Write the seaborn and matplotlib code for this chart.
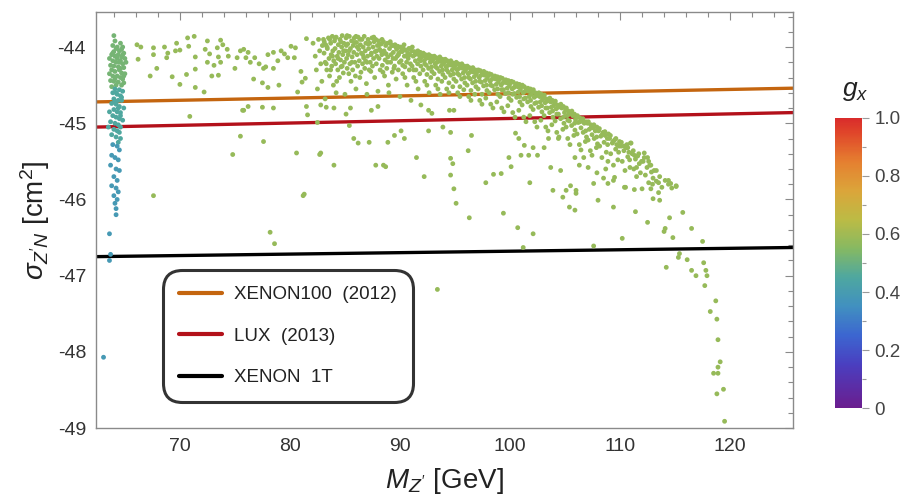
import numpy as np
import pandas as pd
import matplotlib
matplotlib.use("Agg")
import matplotlib.pyplot as plt
import seaborn as sns
from matplotlib.colors import LinearSegmentedColormap, Normalize
from matplotlib.ticker import MultipleLocator, FixedLocator

# ---------------- data ----------------
# exclusion lines (mass in GeV, log10 sigma in cm^2)
xenon100_m = [62.36, 125.7]
xenon100_sigma = [-44.72, -44.54]
lux_m = [62.36, 125.7]
lux_sigma = [-45.05, -44.86]
xenon1t_m = [62.36, 125.7]
xenon1t_sigma = [-46.75, -46.63]

# scan points near the Higgs-resonance column (upper, middle, lower part)
column_top = [(64.0,-43.85),(64.1,-43.92),(63.9,-43.98),(64.6,-43.95),(64.8,-44.0),(64.2,-44.02),(64.0,-44.06),
    (64.5,-44.05),(64.9,-44.08),(63.8,-44.1),(64.1,-44.12),(64.4,-44.1),(64.7,-44.13),(65.0,-44.15),(63.9,-44.18),
    (64.2,-44.2),(64.6,-44.18),(64.8,-44.22),(63.7,-44.24),(64.0,-44.25),(64.4,-44.26),(64.9,-44.27),(63.8,-44.3),
    (64.1,-44.32),(64.5,-44.3),(64.7,-44.34),(65.0,-44.35),(63.9,-44.38),(64.3,-44.38),(64.6,-44.4),(64.8,-44.42),
    (63.7,-44.44),(64.0,-44.45),(64.4,-44.46),(64.9,-44.47),(64.2,-44.5),(64.7,-44.5),(63.8,-44.52),(64.3,-44.0),
    (64.5,-44.2),(64.8,-44.1),(64.3,-44.15),(64.6,-44.28),(63.9,-44.08),(64.1,-44.42),(64.9,-44.38),(64.7,-44.03),
    (63.6,-44.35),(65.1,-44.2),(63.6,-44.15)]
column_mid = [(64.1,-44.55),(64.5,-44.56),(64.8,-44.58),(63.9,-44.6),(64.3,-44.62),(64.6,-44.64),(64.0,-44.68),
    (64.4,-44.7),(64.7,-44.7),(63.8,-44.74),(64.2,-44.75),(64.5,-44.78),(64.9,-44.8),(64.0,-44.82),(64.3,-44.85),
    (64.6,-44.86),(63.9,-44.9),(64.2,-44.92),(64.5,-44.94),(64.8,-44.96),(63.7,-44.98),(64.1,-45.0),(64.4,-45.02),
    (64.6,-45.05),(64.0,-45.08),(64.3,-45.1),(64.5,-45.12),(63.8,-45.15),(64.2,-45.18),(64.6,-45.2),(64.4,-45.25),
    (64.7,-44.66),(64.2,-44.6),(64.6,-44.9),(64.4,-44.8),(64.1,-44.72),(63.6,-44.85),(63.5,-45.05)]
column_low = [(63.9,-45.28),(64.3,-45.3),(64.5,-45.35),(63.8,-45.42),(64.1,-45.45),(64.4,-45.48),(63.7,-45.55),
    (64.2,-45.6),(64.5,-45.62),(64.0,-45.7),(64.3,-45.75),(63.8,-45.82),(64.2,-45.85),(64.4,-45.9),(64.0,-45.95),
    (64.3,-46.0),(64.1,-46.05),(64.2,-46.12),(64.2,-46.2),(63.6,-46.45),(63.7,-46.72),(63.6,-46.8),(63.06,-48.07)]

# sparse points at low mass
sparse_left = [(66.1,-43.97),(66.45,-44.0),(66.2,-44.16),(67.6,-44.01),(67.6,-44.1),(67.9,-44.28),(67.3,-44.38),
    (68.6,-44.0),(68.8,-44.14),(68.9,-44.08),(69.3,-44.39),(69.7,-43.95),(69.6,-44.05),(70.0,-44.04),(70.0,-44.49),
    (70.7,-43.88),(70.8,-43.99),(71.3,-43.86),(70.6,-44.36),(71.4,-44.13),(71.4,-44.29),(71.4,-44.53),(72.2,-44.59),
    (72.5,-43.92),(72.3,-44.03),(72.7,-44.09),(72.5,-44.2),(72.9,-44.38),(73.5,-44.37),(73.4,-44.01),(73.7,-43.91),
    (73.9,-43.97),(73.5,-44.13),(73.7,-44.2),(74.3,-44.03),(74.4,-44.12),(73.1,-44.24),(75.0,-44.28),(75.2,-44.14),
    (75.5,-44.05),(75.8,-44.03),(76.2,-44.07),(76.0,-44.14),(76.4,-44.2),(76.7,-44.42),(76.8,-44.14),(77.2,-44.22),
    (77.5,-44.47),(77.6,-44.28),(77.8,-44.26),(78.0,-44.53),(78.0,-44.1),(78.5,-44.07),(78.5,-44.28),(78.9,-44.18),
    (79.0,-44.5),(79.2,-44.05),(79.5,-44.09),(79.8,-44.14),(80.1,-43.99),(80.4,-44.14),(80.5,-44.01),(81.0,-44.32),
    (81.1,-44.46),(81.4,-44.41),(81.5,-43.89),(80.7,-44.59),(76.2,-44.78),(75.8,-44.83),(77.5,-44.79),(78.5,-44.8),
    (81.5,-44.78),(70.9,-44.91),(81.6,-44.89),(75.5,-45.17),(77.6,-45.24),(74.8,-45.41),(80.6,-45.39),(67.6,-45.95),
    (81.2,-45.95),(78.2,-46.43),(78.6,-46.58),(75.7,-44.83),(82.7,-45.41),(81.3,-45.93)]

# dense band of the Z' scan
band = [(82.1,-43.95),(82.3,-44.12),(82.4,-44.3),(82.6,-43.9),(82.7,-44.05),(82.8,-44.22),(82.9,-44.45),(82.95,-43.98),
    (83.05,-43.9),(83.1,-44.08),(83.2,-44.2),(83.25,-43.97),(83.35,-44.3),(83.4,-44.02),(83.5,-43.88),(83.55,-44.15),
    (83.6,-44.38),(83.7,-43.95),(83.75,-44.1),(83.8,-44.25),(83.85,-43.86),(83.9,-44.05),(83.95,-44.5),(83.98,-44.18),
    (84.05,-43.92),(84.1,-44.02),(84.15,-44.22),(84.2,-43.87),(84.3,-44.12),(84.35,-44.3),(84.4,-43.97),(84.45,-44.07),
    (84.5,-44.4),(84.55,-43.9),(84.6,-44.17),(84.65,-44.26),(84.7,-44.0),(84.75,-43.85),(84.8,-44.1),(84.85,-44.34),
    (84.9,-43.95),(84.95,-44.2),
    (85.05,-44.05),(85.1,-43.88),(85.15,-44.15),(85.2,-44.28),(85.25,-43.96),(85.3,-44.1),(85.4,-43.86),(85.45,-44.22),
    (85.5,-44.02),(85.55,-44.45),(85.6,-43.92),(85.65,-44.13),(85.7,-44.3),(85.75,-43.98),(85.8,-44.07),(85.85,-43.88),
    (85.9,-44.2),(85.95,-44.38),
    (86.05,-43.94),(86.1,-44.1),(86.15,-44.25),(86.2,-43.87),(86.25,-44.03),(86.3,-44.18),(86.4,-43.97),(86.45,-44.33),
    (86.5,-44.08),(86.55,-43.9),(86.6,-44.22),(86.65,-44.0),(86.7,-44.14),(86.75,-43.86),(86.8,-44.28),(86.85,-44.05),
    (86.9,-43.95),(86.95,-44.48),
    (87.05,-44.12),(87.1,-43.9),(87.15,-44.02),(87.2,-44.3),(87.25,-43.95),(87.3,-44.2),(87.4,-44.08),(87.45,-43.88),
    (87.5,-44.25),(87.55,-44.0),(87.6,-44.15),(87.65,-43.93),(87.7,-44.4),(87.75,-44.06),(87.8,-43.9),(87.85,-44.22),
    (87.9,-44.12),(87.95,-43.98),
    (88.05,-43.92),(88.1,-44.15),(88.15,-44.03),(88.2,-44.3),(88.3,-43.96),(88.35,-44.1),(88.4,-44.24),(88.5,-43.93),
    (88.55,-44.05),(88.6,-44.38),(88.65,-44.17),(88.7,-43.98),(88.75,-44.09),(88.8,-44.28),(88.85,-43.95),(88.9,-44.13),
    (88.95,-44.5),
    (89.05,-44.02),(89.1,-43.95),(89.15,-44.2),(89.2,-44.1),(89.3,-44.33),(89.35,-43.98),(89.4,-44.07),(89.5,-44.25),
    (89.55,-43.97),(89.6,-44.15),(89.65,-44.42),(89.7,-44.03),(89.75,-44.12),(89.8,-43.99),(89.85,-44.3),(89.9,-44.08),
    (89.95,-44.2),
    (90.05,-44.0),(90.1,-44.18),(90.2,-44.06),(90.25,-44.35),(90.3,-44.02),(90.4,-44.12),(90.45,-44.26),(90.5,-44.04),
    (90.6,-44.2),(90.65,-44.5),(90.7,-44.08),(90.75,-44.15),(90.8,-44.02),(90.85,-44.3),(90.9,-44.1),(90.95,-44.22),
    (91.05,-44.05),(91.1,-44.25),(91.2,-44.12),(91.25,-44.4),(91.3,-44.06),(91.4,-44.18),(91.45,-44.3),(91.5,-44.08),
    (91.6,-44.22),(91.65,-44.55),(91.7,-44.1),(91.75,-44.16),(91.8,-44.35),(91.85,-44.07),(91.9,-44.25),(91.95,-44.13),
    (92.05,-44.12),(92.1,-44.3),(92.2,-44.18),(92.25,-44.45),(92.3,-44.1),(92.4,-44.24),(92.45,-44.36),(92.5,-44.13),
    (92.6,-44.28),(92.65,-44.6),(92.7,-44.15),(92.75,-44.2),(92.8,-44.4),(92.85,-44.12),(92.9,-44.32),(92.95,-44.18),
    (93.05,-44.16),(93.1,-44.35),(93.2,-44.22),(93.25,-44.5),(93.3,-44.14),(93.4,-44.28),(93.45,-44.42),(93.5,-44.17),
    (93.6,-44.32),(93.65,-44.62),(93.7,-44.19),(93.75,-44.25),(93.8,-44.45),(93.85,-44.16),(93.9,-44.36),(93.95,-44.22),
    (94.05,-44.2),(94.1,-44.4),(94.2,-44.26),(94.25,-44.55),(94.3,-44.18),(94.4,-44.33),(94.45,-44.47),(94.5,-44.22),
    (94.6,-44.37),(94.7,-44.24),(94.75,-44.3),(94.8,-44.52),(94.85,-44.21),(94.9,-44.42),(94.95,-44.27),
    (95.05,-44.24),(95.1,-44.45),(95.2,-44.3),(95.25,-44.6),(95.3,-44.22),(95.4,-44.37),(95.45,-44.52),(95.5,-44.26),
    (95.6,-44.42),(95.7,-44.28),(95.75,-44.34),(95.8,-44.56),(95.85,-44.25),(95.9,-44.47),(95.95,-44.31),
    (96.05,-44.28),(96.1,-44.5),(96.2,-44.35),(96.25,-44.65),(96.3,-44.27),(96.4,-44.42),(96.45,-44.57),(96.5,-44.31),
    (96.6,-44.47),(96.7,-44.33),(96.75,-44.39),(96.8,-44.62),(96.85,-44.3),(96.9,-44.52),(96.95,-44.36),
    (97.05,-44.32),(97.1,-44.55),(97.2,-44.4),(97.25,-44.7),(97.3,-44.31),(97.4,-44.46),(97.45,-44.62),(97.5,-44.35),
    (97.6,-44.51),(97.7,-44.37),(97.75,-44.44),(97.8,-44.67),(97.85,-44.34),(97.9,-44.57),(97.95,-44.41),
    (98.05,-44.37),(98.1,-44.6),(98.2,-44.45),(98.25,-44.75),(98.3,-44.36),(98.4,-44.51),(98.5,-44.4),(98.6,-44.56),
    (98.7,-44.42),(98.75,-44.49),(98.8,-44.72),(98.85,-44.39),(98.9,-44.62),(98.95,-44.46),
    (99.05,-44.42),(99.1,-44.65),(99.2,-44.5),(99.25,-44.8),(99.3,-44.41),(99.4,-44.56),(99.5,-44.45),(99.6,-44.61),
    (99.7,-44.47),(99.75,-44.54),(99.8,-44.77),(99.85,-44.44),(99.9,-44.67),(99.95,-44.51),
    (100.05,-44.47),(100.1,-44.7),(100.2,-44.55),(100.25,-44.86),(100.3,-44.46),(100.4,-44.61),(100.5,-44.5),
    (100.6,-44.66),(100.7,-44.52),(100.75,-44.59),(100.8,-44.83),(100.85,-44.49),(100.9,-44.72),(100.95,-44.56),
    (101.05,-44.52),(101.1,-44.76),(101.2,-44.6),(101.25,-44.92),(101.3,-44.52),(101.4,-44.67),(101.5,-44.56),
    (101.6,-44.72),(101.7,-44.58),(101.75,-44.65),(101.8,-44.9),(101.85,-44.55),(101.9,-44.78),(101.95,-44.62),
    (102.05,-44.58),(102.1,-44.82),(102.2,-44.66),(102.25,-44.98),(102.3,-44.6),(102.4,-44.73),(102.5,-44.63),
    (102.6,-44.79),(102.7,-44.65),(102.75,-44.72),(102.8,-44.96),(102.85,-44.62),(102.9,-44.85),(102.95,-44.69),
    (103.05,-44.66),(103.1,-44.9),(103.2,-44.73),(103.25,-45.05),(103.3,-44.68),(103.4,-44.8),(103.5,-44.7),
    (103.6,-44.86),(103.7,-44.72),(103.75,-44.79),(103.8,-45.02),(103.85,-44.7),(103.9,-44.92),(103.95,-44.77),
    (104.05,-44.74),(104.1,-44.97),(104.2,-44.81),(104.25,-45.12),(104.3,-44.76),(104.4,-44.88),(104.5,-44.78),
    (104.6,-44.94),(104.7,-44.8),(104.8,-45.08),(104.85,-44.78),(104.9,-45.0),(104.95,-44.86),
    (105.05,-44.82),(105.1,-45.05),(105.2,-44.9),(105.25,-45.2),(105.3,-44.84),(105.4,-44.97),(105.5,-44.87),
    (105.6,-45.03),(105.7,-44.9),(105.8,-45.16),(105.85,-44.88),(105.9,-45.09),(105.95,-44.95),
    (106.05,-44.92),(106.1,-45.14),(106.2,-44.99),(106.3,-45.28),(106.35,-44.93),(106.45,-45.06),(106.55,-44.97),
    (106.65,-45.12),(106.75,-45.0),(106.85,-45.24),(106.9,-44.98),(106.95,-45.18),
    (107.05,-45.0),(107.1,-45.22),(107.2,-45.08),(107.3,-45.36),(107.35,-45.02),(107.45,-45.15),(107.55,-45.06),
    (107.65,-45.2),(107.75,-45.1),(107.85,-45.32),(107.9,-45.05),(107.95,-45.27),
    (108.05,-45.1),(108.15,-45.3),(108.25,-45.17),(108.35,-45.45),(108.45,-45.12),(108.55,-45.25),(108.65,-45.16),
    (108.75,-45.38),(108.85,-45.2),(108.9,-45.5),(108.95,-45.14),
    (109.05,-45.2),(109.15,-45.4),(109.3,-45.26),(109.4,-45.55),(109.5,-45.22),(109.6,-45.34),(109.7,-45.28),
    (109.8,-45.48),(109.9,-45.3),(109.95,-45.24),
    (110.1,-45.3),(110.2,-45.5),(110.35,-45.36),(110.45,-45.62),(110.55,-45.32),(110.7,-45.44),(110.8,-45.38),
    (110.9,-45.58),(110.95,-45.26),
    (111.1,-45.4),(111.25,-45.6),(111.4,-45.47),(111.5,-45.7),(111.6,-45.43),(111.75,-45.53),(111.85,-45.65),
    (111.95,-45.5),
    (112.1,-45.5),(112.3,-45.68),(112.45,-45.58),(112.6,-45.78),(112.7,-45.55),(112.85,-45.64),(112.95,-45.8),
    (113.1,-45.62),(113.3,-45.76),(113.6,-45.7),(113.8,-45.84),(114.1,-45.75),(114.4,-45.8),(114.7,-45.85),(115.1,-45.82)]

# extra points filling the upper, densest part of the band
band_extra = [(83.12,-43.93),(83.37,-44.0),(83.62,-43.9),(83.87,-44.12),(83.3,-44.22),(83.7,-44.3),
    (84.12,-43.88),(84.37,-44.15),(84.62,-43.93),(84.87,-44.05),(84.25,-44.45),(84.75,-44.25),
    (85.12,-43.98),(85.37,-44.05),(85.62,-44.2),(85.87,-43.94),(85.35,-44.35),(85.2,-43.85),
    (86.12,-44.0),(86.37,-43.9),(86.62,-44.1),(86.87,-44.18),(86.35,-44.4),(86.0,-43.86),
    (87.12,-43.96),(87.37,-44.1),(87.62,-43.87),(87.87,-44.05),(87.35,-44.32),(87.0,-44.2),
    (88.12,-43.97),(88.37,-43.9),(88.62,-44.08),(88.87,-44.2),(88.45,-44.33),(88.25,-44.05),
    (89.12,-43.93),(89.37,-44.15),(89.62,-44.0),(89.87,-44.1),(89.45,-44.28),(89.25,-43.98),
    (90.12,-44.05),(90.37,-43.97),(90.62,-44.12),(90.87,-44.02),(90.45,-44.4),(90.25,-44.24),
    (91.12,-44.0),(91.37,-44.1),(91.62,-44.05),(91.87,-44.18),(91.45,-44.45),(91.25,-44.3),
    (92.12,-44.08),(92.37,-44.15),(92.62,-44.1),(92.87,-44.26),(92.45,-44.5),(92.25,-44.22),
    (93.12,-44.12),(93.37,-44.2),(93.62,-44.13),(93.87,-44.3),(93.45,-44.55),(93.25,-44.26),
    (94.12,-44.16),(94.37,-44.24),(94.62,-44.18),(94.87,-44.35),(94.45,-44.6),(94.25,-44.3),
    (95.12,-44.2),(95.37,-44.28),(95.62,-44.22),(95.87,-44.4),(95.45,-44.65),(95.25,-44.35),
    (96.12,-44.25),(96.37,-44.33),(96.62,-44.27),(96.87,-44.45),(96.45,-44.7),(96.25,-44.4),
    (97.12,-44.3),(97.37,-44.37),(97.62,-44.32),(97.87,-44.5),(97.45,-44.75),(97.25,-44.45),
    (98.12,-44.35),(98.37,-44.42),(98.62,-44.38),(98.87,-44.55),(98.45,-44.8),(98.25,-44.5),
    (99.12,-44.4),(99.37,-44.47),(99.62,-44.43),(99.87,-44.6),(99.45,-44.85),(99.25,-44.56),
    (100.12,-44.45),(100.37,-44.53),(100.62,-44.48),(100.87,-44.65),(100.45,-44.92),(100.25,-44.62),
    (101.12,-44.5),(101.37,-44.58),(101.62,-44.54),(101.87,-44.7),(101.45,-44.98),(101.25,-44.68),
    (102.12,-44.56),(102.37,-44.64),(102.62,-44.6),(102.87,-44.77),(102.45,-45.05),(102.25,-44.74),
    (103.12,-44.63),(103.37,-44.71),(103.62,-44.67),(103.87,-44.84),(103.45,-45.1),(103.25,-44.8),
    (104.12,-44.71),(104.37,-44.79),(104.62,-44.75),(104.87,-44.92),(104.45,-45.18),(104.25,-44.88),
    (105.12,-44.8),(105.37,-44.88),(105.62,-44.84),(105.87,-45.0),(105.45,-45.28),(105.25,-44.96),
    (106.12,-44.9),(106.37,-44.98),(106.62,-44.94),(106.87,-45.1),(106.45,-45.35),
    (107.12,-44.98),(107.37,-45.06),(107.62,-45.02),(107.87,-45.18),(107.45,-45.42),
    (108.12,-45.07),(108.37,-45.15),(108.62,-45.11),(108.87,-45.28),
    (109.12,-45.16),(109.37,-45.24),(109.62,-45.2),(109.87,-45.38),
    (110.12,-45.25),(110.37,-45.3),(110.62,-45.28),(110.87,-45.48),
    (111.2,-45.36),(111.7,-45.4),(112.2,-45.45),(112.6,-45.5)]

# sparse points below the band
sparse_right = [(82.5,-44.55),(84.2,-44.6),(86.0,-44.55),(87.0,-44.62),(88.0,-44.58),(89.0,-44.6),(90.0,-44.65),
    (91.0,-44.7),(83.2,-44.68),(85.0,-44.62),
    (82.8,-44.76),(83.3,-44.79),(84.0,-44.8),(85.1,-44.88),(85.5,-44.8),(87.4,-44.83),(88.0,-44.78),(85.4,-45.03),
    (82.5,-44.99),(85.8,-45.2),(86.2,-45.26),(87.2,-45.25),(88.9,-45.25),(89.5,-45.16),(90.1,-45.1),(90.4,-45.2),
    (82.8,-45.39),(84.0,-45.55),(87.8,-45.55),(88.5,-45.55),(91.5,-45.45),(91.9,-44.76),(92.6,-44.83),(92.9,-44.87),
    (92.6,-45.1),(93.9,-45.05),(94.6,-45.12),(94.5,-44.83),(94.9,-44.83),(94.6,-45.46),(94.8,-45.53),(92.2,-45.7),
    (94.6,-45.68),(88.7,-45.57),(94.9,-45.86),(95.1,-46.05),(96.2,-45.36),(96.5,-45.16),(97.8,-45.78),(98.5,-45.67),
    (99.2,-45.66),(99.4,-46.18),(100.1,-45.57),(100.5,-45.13),(100.8,-45.2),(101.3,-45.29),(101.8,-45.78),(101.0,-45.42),
    (101.7,-45.42),(102.1,-45.32),(102.5,-45.42),(103.1,-45.32),(103.5,-45.2),(103.7,-45.58),(103.9,-45.88),
    (104.6,-45.62),(104.8,-45.97),(105.1,-45.88),(105.4,-46.1),(105.5,-45.82),(106.0,-45.88),(106.0,-45.92),
    (106.7,-45.45),(107.1,-45.58),(107.6,-45.79),(108.0,-46.01),(108.9,-45.79),(109.4,-46.1),(110.4,-45.84),
    (110.7,-45.32),(96.3,-46.24),(100.7,-46.37),(101.2,-46.63),(102.1,-46.45),(99.9,-45.45),(104.4,-45.2),
    (105.9,-46.14),(105.9,-45.45),(106.3,-45.55),(107.9,-45.65),(109.4,-45.75),(110.2,-46.51),(107.6,-46.61),
    (93.4,-47.18),(111.4,-46.16),(112.5,-46.3),(112.0,-45.86),(113.0,-45.99),(113.6,-46.01),(114.5,-46.24),
    (114.1,-46.38),(114.0,-46.42),(114.8,-46.5),(115.7,-46.17),(116.5,-46.38),(117.5,-46.55),(115.4,-46.71),
    (115.3,-46.76),(116.1,-46.79),(114.2,-46.89),(116.5,-46.93),(116.9,-47.0),(117.6,-46.83),(117.8,-46.93),
    (117.9,-47.0),(117.7,-47.13),(118.7,-47.33),(118.2,-47.47),(118.8,-47.57),(118.9,-47.84),(119.1,-48.13),
    (118.9,-48.2),(118.5,-48.28),(118.9,-48.28),(119.4,-48.49),(118.8,-48.55),(119.5,-48.91),
    (108.7,-45.6),(108.5,-45.72),(109.5,-45.71),(110.5,-45.84),(111.3,-45.87),(112.8,-45.86),(113.5,-45.91),
    (113.0,-45.72),(113.5,-45.78),(114.4,-45.75),(115.1,-45.83),(114.6,-45.79),(112.8,-45.55),(113.3,-45.62),
    (112.2,-45.39),(112.5,-45.45),(111.5,-45.58),(111.3,-45.42),(111.0,-45.26)]

# coupling g_x assigned to each group of points
group_gx = {"column_top": 0.52, "column_mid": 0.45, "column_low": 0.39,
            "sparse_left": 0.58, "band": 0.58, "band_extra": 0.58, "sparse_right": 0.58}
groups = {"column_top": column_top, "column_mid": column_mid, "column_low": column_low,
          "sparse_left": sparse_left, "band": band, "band_extra": band_extra, "sparse_right": sparse_right}

rows = []
for name, pts in groups.items():
    for m, s in pts:
        rows.append((m, s, group_gx[name]))
df = pd.DataFrame(rows, columns=["m", "sigma", "g"])

cbar_ticks = [0, 0.2, 0.4, 0.6, 0.8, 1.0]
cbar_labels = ["0", "0.2", "0.4", "0.6", "0.8", "1.0"]
x_ticks = [70, 80, 90, 100, 110, 120]
y_ticks = [-44, -45, -46, -47, -48, -49]
legend_labels = ["XENON100  (2012)", "LUX  (2013)", "XENON  1T"]

# ---------------- style ----------------
sns.set_style("white")
plt.rcParams["font.family"] = ["Liberation Sans", "DejaVu Sans"]
plt.rcParams["mathtext.fontset"] = "custom"
plt.rcParams["mathtext.rm"] = "Liberation Sans"
plt.rcParams["mathtext.it"] = "Liberation Sans:italic"
plt.rcParams["axes.unicode_minus"] = False

rainbow = LinearSegmentedColormap.from_list("mma_rainbow", [
    (0.0, "#6b1d8e"), (0.15, "#4a3fc0"), (0.25, "#3c66d0"), (0.35, "#4190c0"),
    (0.45, "#4ea7a0"), (0.55, "#86b962"), (0.65, "#bcbb45"), (0.75, "#dba53a"),
    (0.85, "#e57f30"), (0.95, "#e0462a"), (1.0, "#d92b2b")])

fig = plt.figure(figsize=(9.04, 4.99), dpi=100)
ax = fig.add_axes([0.106, 0.142, 0.771, 0.834])

sns.lineplot(x=xenon100_m, y=xenon100_sigma, color="#c4650f", lw=2.4, ax=ax, label=legend_labels[0], zorder=2)
sns.lineplot(x=lux_m, y=lux_sigma, color="#b3111a", lw=2.4, ax=ax, label=legend_labels[1], zorder=2)
sns.lineplot(x=xenon1t_m, y=xenon1t_sigma, color="black", lw=2.4, ax=ax, label=legend_labels[2], zorder=2)

sns.scatterplot(data=df, x="m", y="sigma", hue="g", palette=rainbow, hue_norm=(0, 1),
                s=12, linewidth=0, legend=False, ax=ax, zorder=3)

ax.set_xlim(62.36, 125.7)
ax.set_ylim(-49, -43.54)
ax.xaxis.set_major_locator(FixedLocator(x_ticks))
ax.xaxis.set_minor_locator(MultipleLocator(2))
ax.yaxis.set_major_locator(FixedLocator(y_ticks))
ax.yaxis.set_minor_locator(MultipleLocator(0.2))
ax.tick_params(which="both", direction="in", top=True, right=True, color="#8a8a8a", width=0.8,
               labelsize=14, labelcolor="#333333")
ax.tick_params(which="major", length=6)
ax.tick_params(which="minor", length=3.5)
ax.tick_params(axis="x", pad=7)
ax.tick_params(axis="y", pad=7)
for sp in ax.spines.values():
    sp.set_color("#8a8a8a")
    sp.set_linewidth(1.0)

ax.set_xlabel(r"$M_{Z'}$ [GeV]", fontsize=20, color="#222222", labelpad=8)
ax.set_ylabel(r"$\sigma_{Z'N}$ [cm$^2$]", fontsize=20, color="#222222", labelpad=4)

leg = ax.legend(loc="upper left", bbox_to_anchor=(0.0961, 0.3798), borderaxespad=0, fontsize=13.5,
                handlelength=2.3, handletextpad=0.65, labelspacing=1.3, borderpad=0.85,
                frameon=True, fancybox=True)
frame = leg.get_frame()
frame.set_edgecolor("black")
frame.set_linewidth(2.2)
frame.set_boxstyle("round,pad=0,rounding_size=1.0")
for t in leg.get_texts():
    t.set_color("#222222")
for h in leg.get_lines():
    h.set_linewidth(3)

# colorbar
cax = fig.add_axes([0.924, 0.182, 0.030, 0.582])
sm = plt.cm.ScalarMappable(norm=Normalize(0, 1), cmap=rainbow)
cb = fig.colorbar(sm, cax=cax)
cb.outline.set_visible(False)
cb.set_ticks(cbar_ticks)
cb.set_ticklabels(cbar_labels)
cax.yaxis.set_minor_locator(MultipleLocator(0.1))
cax.tick_params(which="both", color="#9a9a9a", labelsize=13.5, labelcolor="#444444", width=0.8)
cax.tick_params(which="major", length=5)
cax.tick_params(which="minor", length=3)
fig.text(0.946, 0.818, r"$g_x$", fontsize=19, ha="center", va="center", color="#222222")

fig.savefig("out.png", dpi=100)
